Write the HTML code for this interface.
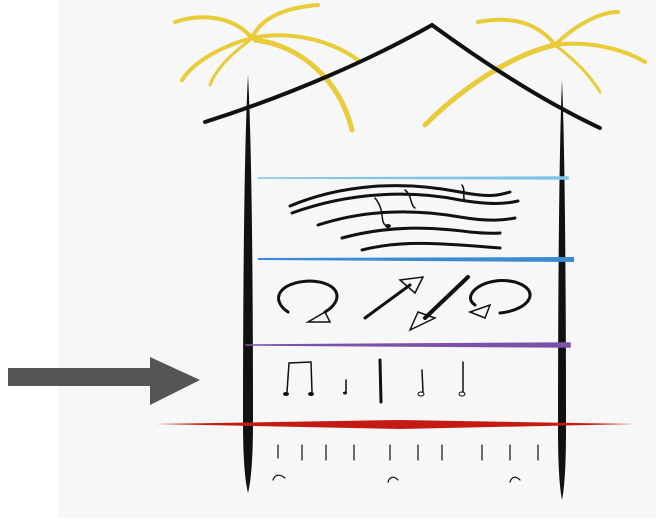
<!DOCTYPE html>
<html><head><style>html,body{margin:0;padding:0;background:#fff}svg{display:block}</style></head><body>
<svg width="656" height="522" viewBox="0 0 656 522" xmlns="http://www.w3.org/2000/svg">
<rect x="58" y="0" width="598" height="518" fill="#f7f7f7"/>
<g fill="none" stroke="#e8cc3a" stroke-linecap="round">
<path d="M252 38 C235 18 205 12 175 22" stroke-width="4"/>
<path d="M252 38 C225 45 195 60 182 80" stroke-width="4"/>
<path d="M252 38 C260 20 280 8 318 5" stroke-width="4"/>
<path d="M252 38 C290 30 330 40 358 60" stroke-width="4"/>
<path d="M255 40 C300 45 340 80 352 130" stroke-width="5"/>
<path d="M250 40 C230 55 215 70 210 85" stroke-width="3"/>
<path d="M555 45 C540 25 515 15 478 22" stroke-width="4"/>
<path d="M555 45 C575 25 600 12 618 12" stroke-width="4"/>
<path d="M555 45 C590 40 625 50 645 62" stroke-width="4"/>
<path d="M555 45 C510 55 460 90 425 125" stroke-width="5"/>
<path d="M555 45 C575 60 590 75 600 92" stroke-width="3"/>
<path d="M555 45 C530 50 510 60 495 72" stroke-width="3"/>
</g>
<path d="M205 122 C290 95 370 60 432 25 C480 60 540 100 600 128" fill="none" stroke="#111" stroke-width="4" stroke-linecap="round"/>
<path d="M248 75 C252 150 253 300 253 420 C253 460 251 480 248 493 C245 480 243 460 243 420 C243 300 244 150 248 75 Z" fill="#111"/>
<path d="M562 80 C565 150 566 300 566 430 C566 470 564 490 562 500 C560 490 558 470 558 430 C558 300 559 150 562 80 Z" fill="#111"/>
<path d="M258 178 L568 177 L568 179 Z" fill="#7fc4e4" stroke="#7fc4e4" stroke-width="1.5"/>
<path d="M258 259 L573 258 L573 261 Z" fill="#3b8ad4" stroke="#3b8ad4" stroke-width="2"/>
<path d="M245 345 L570 343 L570 347 Z" fill="#7a52a8" stroke="#7a52a8" stroke-width="1.5"/>
<path d="M155 424 L400 420 L635 424 L400 429 Z" fill="#c41a12"/>
<g fill="none" stroke="#111" stroke-linecap="round">
<path d="M290 206 C340 185 400 180 460 192 C490 198 500 195 510 192" stroke-width="3"/>
<path d="M292 213 C350 192 410 190 460 200 C490 205 505 204 518 201" stroke-width="3"/>
<path d="M318 225 C370 208 420 210 460 217 C490 222 505 220 515 218" stroke-width="3"/>
<path d="M342 238 C390 225 430 227 470 232 C490 234 500 233 500 233" stroke-width="3"/>
<path d="M362 250 C400 240 440 243 500 248" stroke-width="3"/>
<path d="M375 198 C385 210 380 220 385 225" stroke-width="1.5"/>
<path d="M405 190 C412 195 410 205 415 208" stroke-width="1.5"/>
<path d="M462 185 C466 190 462 198 465 200" stroke-width="1.5"/>
<path d="M288 312 C270 300 278 282 310 281 C340 282 345 300 325 312" stroke-width="3"/>
<path d="M325 312 L308 322 L330 322 Z" stroke-width="1.5"/>
<path d="M365 318 L410 285" stroke-width="3"/>
<path d="M400 280 L423 277 L415 293 Z" stroke-width="1.5"/>
<path d="M468 277 L425 318" stroke-width="4"/>
<path d="M418 312 L410 330 L435 318 Z" stroke-width="1.5"/>
<path d="M500 313 C530 310 542 290 515 282 C485 275 460 295 475 305" stroke-width="3"/>
<path d="M470 312 L490 305 L485 318 Z" stroke-width="1.5"/>
<path d="M287 392 L289 363 L311 362 L312 392" stroke-width="1.5"/>
<path d="M346 380 L346 392" stroke-width="1.5"/>
<path d="M380 360 L381 402" stroke-width="3"/>
<path d="M422 370 L423 392" stroke-width="1.5"/>
<path d="M463 362 L463 392" stroke-width="1.5"/>
<g stroke-width="1.2">
<path d="M278 445 V458 M302 445 V460 M326 445 V460 M354 445 V460 M390 445 V460 M418 445 V460 M442 445 V460 M482 445 V460 M510 445 V460 M538 445 V460"/>
<path d="M273 480 C275 474 280 474 285 478 M388 482 C390 476 394 476 398 480 M510 482 C512 476 516 476 520 480"/>
</g>
</g>
<g fill="#111"><ellipse cx="286" cy="394" rx="3" ry="2"/><ellipse cx="311" cy="394" rx="3" ry="2"/><ellipse cx="345" cy="393" rx="2" ry="1.5"/><ellipse cx="421" cy="394" rx="3" ry="2" fill="none" stroke="#111"/><ellipse cx="462" cy="394" rx="3" ry="2" fill="none" stroke="#111"/><ellipse cx="388" cy="226" rx="3" ry="2"/></g>
<rect x="8" y="368" width="144" height="18" fill="#555"/>
<path d="M150 357 L200 380 L150 405 Z" fill="#555"/>
</svg>
</body></html>
